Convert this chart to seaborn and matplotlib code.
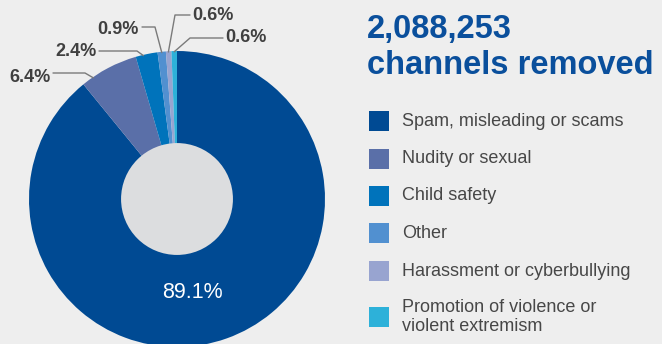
import numpy as np
import matplotlib
matplotlib.use("Agg")
import matplotlib.pyplot as plt
from matplotlib.patches import Circle, Rectangle
import seaborn as sns

# Channel removals by reason (share of total, %)
categories = [
    "Spam, misleading or scams",
    "Nudity or sexual",
    "Child safety",
    "Other",
    "Harassment or cyberbullying",
    "Promotion of violence or\nviolent extremism",
]
shares = [89.1, 6.4, 2.4, 0.9, 0.6, 0.6]
share_labels = ["89.1%", "6.4%", "2.4%", "0.9%", "0.6%", "0.6%"]
total_removed = "2,088,253"

colors = ["#004a93", "#5a6fa8", "#0073bb", "#5190d0", "#98a4d0", "#2db1d9"]

BG = "#eeeeee"
sns.set_theme(style="white", rc={"figure.facecolor": BG, "axes.facecolor": BG})
plt.rcParams["font.family"] = ["Liberation Sans", "DejaVu Sans"]

W, H = 662, 344
fig = plt.figure(figsize=(W / 100, H / 100), dpi=100)

# pie geometry in pixels
cx, cy, R = 177, 199, 148
ax = fig.add_axes([(cx - R) / W, (H - cy - R) / H, 2 * R / W, 2 * R / H])

wedges, _ = ax.pie(shares, colors=colors, startangle=90, counterclock=False,
                   radius=1, wedgeprops=dict(linewidth=0))
ax.set_xlim(-1, 1)
ax.set_ylim(-1, 1)
ax.set_aspect("equal")
ax.axis("off")
ax.add_patch(Circle((0, 0), 0.378, facecolor="#dcdddf", edgecolor="none", zorder=3))


def px(x, y):
    """pixel position -> pie data coordinates"""
    return (x - cx) / R, (cy - y) / R


# big slice value inside the ring
tx, ty = px(192, 293)
ax.text(tx, ty, share_labels[0], color="white", fontsize=15.5,
        ha="center", va="center", zorder=4)

# callouts for the small slices: (anchor fraction in wedge, elbow px, line end px, text px, ha)
callouts = [
    (0.20, (85, 73), (53, 73), (51, 77), "right"),
    (0.35, (137, 51), (99, 51), (97, 51), "right"),
    (0.50, (155, 27), (142, 27), (139, 29), "right"),
    (0.45, (175, 15), (190, 15), (192, 16), "left"),
    (0.50, (190, 38), (223, 38), (225, 38), "left"),
]
for (frac, elbow, end, tpos, ha), w, lab in zip(callouts, wedges[1:], share_labels[1:]):
    ang = np.deg2rad(w.theta2 - frac * (w.theta2 - w.theta1))
    a = (np.cos(ang) * 0.995, np.sin(ang) * 0.995)
    e = px(*elbow)
    f = px(*end)
    ax.plot([a[0], e[0], f[0]], [a[1], e[1], f[1]], color="#7a7a7a",
            lw=1.0, clip_on=False, zorder=5)
    t = px(*tpos)
    ax.text(t[0], t[1], lab, color="#404040", fontsize=13, fontweight="bold",
            ha=ha, va="center", clip_on=False)

# headline
fig.text(367 / W, 1 - 38 / H, total_removed, color="#0a4f9c", fontsize=23.5,
         fontweight="bold", ha="left", va="baseline")
fig.text(367 / W, 1 - 74 / H, "channels removed", color="#0a4f9c", fontsize=23.5,
         fontweight="bold", ha="left", va="baseline")

# legend
row_y = [121, 159, 196, 233, 271, 317]
for c, name, y in zip(colors, categories, row_y):
    fig.patches.append(Rectangle((369 / W, 1 - (y + 10) / H), 20 / W, 20 / H,
                                 transform=fig.transFigure, facecolor=c,
                                 edgecolor="none"))
    fig.text(402 / W, 1 - y / H, name, color="#474747", fontsize=13,
             ha="left", va="center", linespacing=1.2)

fig.savefig("out.png", dpi=100, facecolor=BG)
